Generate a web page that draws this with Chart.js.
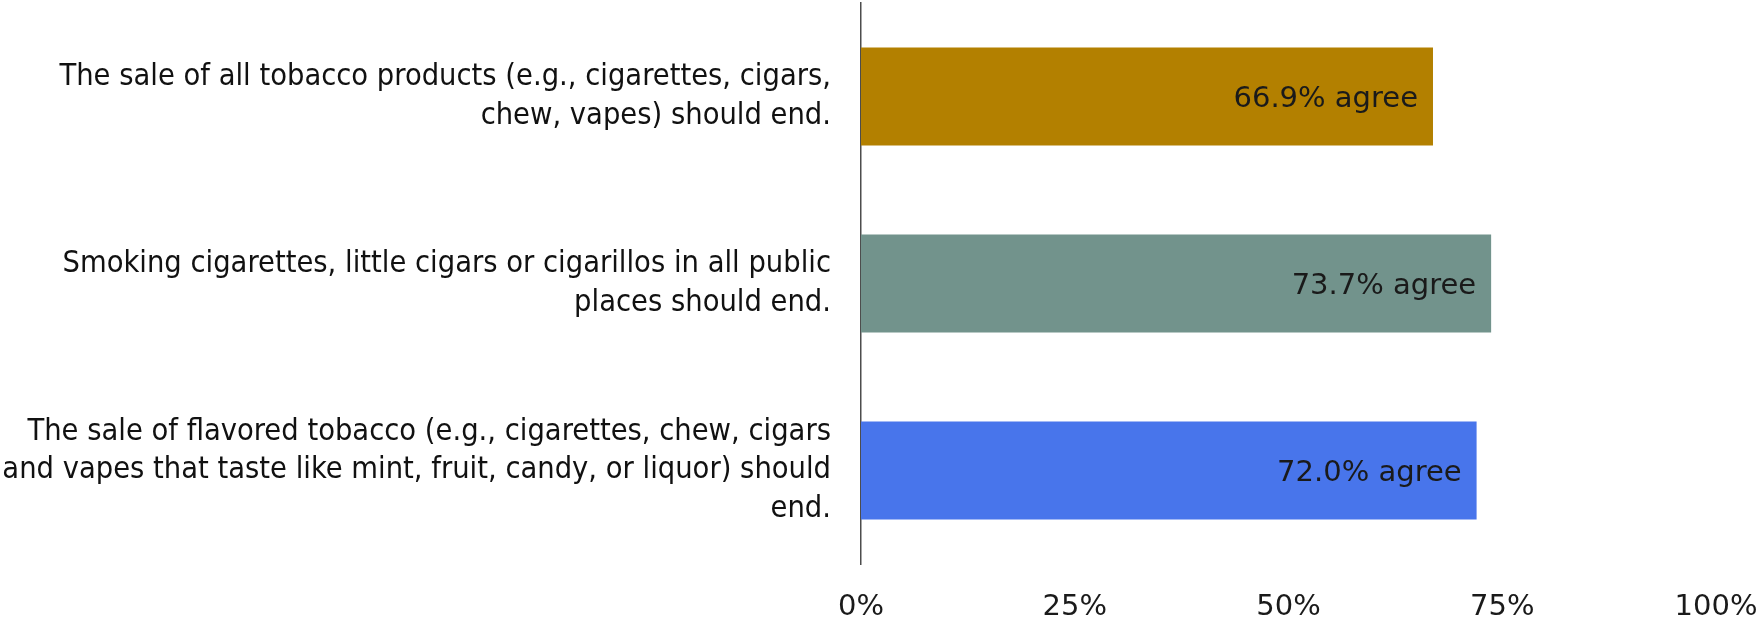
<!DOCTYPE html>
<html>
<head>
<meta charset="utf-8">
<script src="https://cdn.jsdelivr.net/npm/chart.js@4"></script>
<style>
  html, body { margin: 0; padding: 0; background: #ffffff; }
  #wrap { width: 1763px; height: 621px; position: relative; }
</style>
</head>
<body>
<div id="wrap"><canvas id="c"></canvas></div>
<script>
const categories = [
  ["The sale of all tobacco products (e.g., cigarettes, cigars,", "chew, vapes) should end."],
  ["Smoking cigarettes, little cigars or cigarillos in all public", "places should end."],
  ["The sale of flavored tobacco (e.g., cigarettes, chew, cigars", "and vapes that taste like mint, fruit, candy, or liquor) should", "end."]
];
const agreeValues = [66.9, 73.7, 72.0];
const barColors = ["#B38000", "#72938C", "#4875EB"];
const valueSuffix = "% agree";
const tickSuffix = "%";

const valueLabelPlugin = {
  id: 'valueLabels',
  afterDatasetsDraw(chart) {
    const ctx = chart.ctx;
    const meta = chart.getDatasetMeta(0);
    ctx.save();
    ctx.font = '29px "DejaVu Sans", sans-serif';
    ctx.fillStyle = '#1a1a1a';
    ctx.textAlign = 'right';
    ctx.textBaseline = 'middle';
    meta.data.forEach((bar, i) => {
      const v = chart.data.datasets[0].data[i];
      ctx.fillText(v.toFixed(1) + valueSuffix, bar.x - 15, bar.y + 3);
    });
    ctx.restore();
  }
};

new Chart(document.getElementById('c'), {
  type: 'bar',
  data: {
    labels: categories,
    datasets: [{
      data: agreeValues,
      backgroundColor: barColors,
      borderWidth: 0,
      categoryPercentage: 0.525,
      barPercentage: 1.0
    }]
  },
  options: {
    indexAxis: 'y',
    responsive: true,
    maintainAspectRatio: false,
    animation: false,
    layout: { padding: { top: 3, right: 47, left: 0, bottom: 0 } },
    plugins: {
      legend: { display: false },
      tooltip: { enabled: false }
    },
    scales: {
      x: {
        min: 0,
        max: 100,
        grid: { display: false, drawTicks: false },
        border: { display: false },
        ticks: {
          stepSize: 25,
          padding: 29,
          color: '#1a1a1a',
          font: { family: '"DejaVu Sans", sans-serif', size: 29, lineHeight: 1 },
          callback: (v) => v + tickSuffix
        },
        afterFit: (scale) => {
          scale.height = 57;
          scale.paddingLeft = 0;
          scale.paddingRight = 0;
        }
      },
      y: {
        grid: { display: false, drawTicks: false },
        border: { display: true, color: '#4d4d4d', width: 1.5 },
        ticks: {
          padding: 30,
          color: '#111111',
          font: { family: '"DejaVu Sans Condensed", "Liberation Sans Narrow", sans-serif', size: 30.5, lineHeight: 1.26 }
        },
        afterFit: (scale) => {
          scale.width = 861;
          scale.paddingTop = 0;
          scale.paddingBottom = 0;
        }
      }
    }
  },
  plugins: [valueLabelPlugin]
});
</script>
</body>
</html>
